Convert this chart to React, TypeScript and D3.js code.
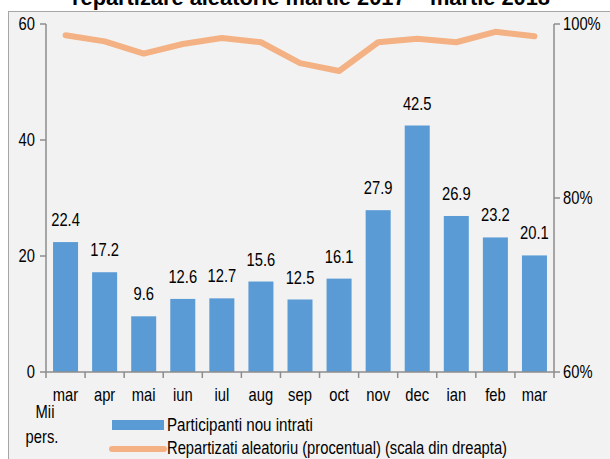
import React from "react";
import * as d3 from "d3";

const categories = ["mar", "apr", "mai", "iun", "iul", "aug", "sep", "oct", "nov", "dec", "ian", "feb", "mar"];
const participants = [22.4, 17.2, 9.6, 12.6, 12.7, 15.6, 12.5, 16.1, 27.9, 42.5, 26.9, 23.2, 20.1];
const randomPct = [98.7, 98.0, 96.6, 97.7, 98.4, 97.9, 95.5, 94.6, 97.9, 98.3, 97.9, 99.1, 98.6];
const leftTicks = [0, 20, 40, 60];
const rightTicks = [60, 80, 100];

const W = 610;
const H = 459;
const FONT = "'Liberation Sans', Arial, sans-serif";
const NARROW = 0.82;

function NText(props: {
  x: number;
  y: number;
  size: number;
  anchor?: "start" | "middle" | "end";
  dy?: string;
  children: React.ReactNode;
}) {
  return (
    <text
      transform={`translate(${props.x},${props.y}) scale(${NARROW},1)`}
      textAnchor={props.anchor || "start"}
      dy={props.dy}
      fontSize={props.size}
      fill="#000"
    >
      {props.children}
    </text>
  );
}

export default function App() {
  const left = 46;
  const right = 554;
  const top = 24;
  const bottom = 372;

  const idx = categories.map((_, i) => String(i));
  const x = d3.scaleBand<string>().domain(idx).range([left, right]).paddingInner(0.36).paddingOuter(0.18);
  const xOuter = d3.scaleBand<string>().domain(idx).range([left, right]);
  const yL = d3.scaleLinear().domain([0, 60]).range([bottom, top]);
  const yR = d3.scaleLinear().domain([60, 100]).range([bottom, top]);

  const line = d3
    .line<number>()
    .x((_, i) => (xOuter(String(i)) as number) + xOuter.bandwidth() / 2)
    .y((d) => yR(d));

  const axisColor = "#8c8c8c";
  const fs = 18;

  return (
    <svg
      width={W}
      height={H}
      style={{ position: "absolute", left: 0, top: 0, fontFamily: FONT }}
    >
      <rect x={0} y={0} width={W} height={H} fill="#ffffff" />
      <rect x={8.5} y={11.5} width={W} height={H} fill="#f2f2f2" stroke="#a6a6a6" strokeWidth={1} />
      <text
        x={72}
        y={5}
        fontSize={22}
        fontWeight="bold"
        fill="#000"
        textLength={478}
        lengthAdjust="spacingAndGlyphs"
      >
        repartizare aleatorie martie 2017 – martie 2018
      </text>

      {/* bars */}
      {participants.map((v, i) => (
        <g key={"b" + i}>
          <rect
            x={x(String(i))}
            y={yL(v)}
            width={x.bandwidth()}
            height={yL(0) - yL(v)}
            fill="#5b9bd5"
          />
          <NText
            x={(x(String(i)) as number) + x.bandwidth() / 2}
            y={yL(v) - 16}
            anchor="middle"
            size={fs}
          >
            {v.toFixed(1)}
          </NText>
        </g>
      ))}

      {/* left axis */}
      <line x1={left} x2={left} y1={top} y2={bottom} stroke={axisColor} strokeWidth={1.5} />
      {leftTicks.map((t) => (
        <g key={"l" + t}>
          <line x1={left - 6} x2={left} y1={yL(t)} y2={yL(t)} stroke={axisColor} strokeWidth={1.5} />
          <NText x={35} y={yL(t)} dy="0.35em" anchor="end" size={fs}>
            {t}
          </NText>
        </g>
      ))}

      {/* right axis */}
      <line x1={right} x2={right} y1={top} y2={bottom} stroke={axisColor} strokeWidth={1.5} />
      {rightTicks.map((t) => (
        <g key={"r" + t}>
          <line x1={right} x2={right + 6} y1={yR(t)} y2={yR(t)} stroke={axisColor} strokeWidth={1.5} />
          <NText x={563} y={yR(t)} dy="0.35em" anchor="start" size={fs}>
            {t + "%"}
          </NText>
        </g>
      ))}

      {/* x axis */}
      <line x1={left} x2={right} y1={bottom} y2={bottom} stroke={axisColor} strokeWidth={1.5} />
      {categories.map((c, i) => (
        <g key={"x" + i}>
          <line
            x1={xOuter(String(i)) as number}
            x2={xOuter(String(i)) as number}
            y1={bottom}
            y2={bottom + 6}
            stroke={axisColor}
            strokeWidth={1.5}
          />
          <NText
            x={(xOuter(String(i)) as number) + xOuter.bandwidth() / 2}
            y={401}
            anchor="middle"
            size={fs}
          >
            {c}
          </NText>
        </g>
      ))}
      <line x1={right} x2={right} y1={bottom} y2={bottom + 6} stroke={axisColor} strokeWidth={1.5} />

      {/* line */}
      <path
        d={line(randomPct) || ""}
        fill="none"
        stroke="#f4b183"
        strokeWidth={6}
        strokeLinecap="round"
        strokeLinejoin="round"
      />

      {/* unit label */}
      <NText x={45} y={418} anchor="middle" size={fs}>Mii</NText>
      <NText x={42} y={443} anchor="middle" size={fs}>pers.</NText>

      {/* legend */}
      <rect x={112} y={420} width={52} height={10} fill="#5b9bd5" />
      <NText x={167} y={425} dy="0.35em" size={18.5}>Participanti nou intrati</NText>
      <line x1={112} x2={164} y1={449} y2={449} stroke="#f4b183" strokeWidth={6} strokeLinecap="round" />
      <NText x={167} y={448} dy="0.35em" size={18}>
        Repartizati aleatoriu (procentual) (scala din dreapta)
      </NText>
    </svg>
  );
}
